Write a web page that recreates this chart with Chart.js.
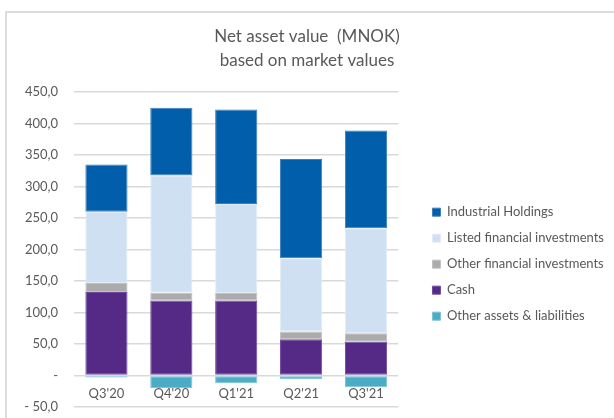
<!DOCTYPE html>
<html>
<head>
<meta charset="utf-8">
<script src="https://cdn.jsdelivr.net/npm/chart.js@4/dist/chart.umd.min.js"></script>
<style>
  html, body { margin: 0; padding: 0; background: #ffffff; }
  #frame { position: absolute; left: 5px; top: 11px; width: 700px; height: 500px;
           border-top: 2px solid #dcdcdc; border-left: 2px solid #dcdcdc; }
  #wrap { position: absolute; left: 0; top: 0; width: 614px; height: 418px; }
</style>
</head>
<body>
<div id="frame"></div>
<div id="wrap"><canvas id="c"></canvas></div>
<script>
const categories = ["Q3'20", "Q4'20", "Q1'21", "Q2'21", "Q3'21"];
const industrialHoldings = [74.8, 107.6, 150.0, 157.4, 155.2];
const listedFinancial = [113.3, 186.0, 141.3, 116.0, 166.5];
const otherFinancial = [14.3, 12.4, 12.0, 12.3, 13.8];
const cash = [132.4, 119.0, 119.0, 57.7, 53.4];
const otherAssets = [-3.0, -19.7, -12.3, -5.9, -18.6];
const titleLines = ["Net asset value  (MNOK)", "based on market values"];
const yMin = -50, yMax = 450, yStep = 50;

const FONT = "Lato, 'Open Sans', sans-serif";
const TXT = '#595959';

function fmt(v) {
  if (v === 0) return '-';
  const s = Math.abs(v).toFixed(1).replace('.', ',');
  return v < 0 ? '- ' + s : s;
}

new Chart(document.getElementById('c'), {
  type: 'bar',
  data: {
    labels: categories,
    datasets: [
      { label: 'Other assets & liabilities', data: otherAssets, backgroundColor: '#4BACC6', borderColor: '#7cc4d6' },
      { label: 'Cash', data: cash, backgroundColor: '#552A87', borderColor: '#6f4a9c' },
      { label: 'Other financial investments', data: otherFinancial, backgroundColor: '#ABABAB', borderColor: '#c2c2c2' },
      { label: 'Listed financial investments', data: listedFinancial, backgroundColor: '#CFE0F2', borderColor: '#e2ecf8' },
      { label: 'Industrial Holdings', data: industrialHoldings, backgroundColor: '#005EAB', borderColor: '#3a7fbd' }
    ]
  },
  options: {
    responsive: true,
    maintainAspectRatio: false,
    animation: false,
    datasets: { bar: { categoryPercentage: 1, barPercentage: 0.65, borderWidth: 1, borderSkipped: false } },
    layout: { padding: { top: 0, bottom: 0, left: 0, right: 0 } },
    scales: {
      x: {
        stacked: true,
        position: { y: 0 },
        afterFit: (s) => { s.height = 0; },
        grid: { display: false, drawTicks: false },
        border: { display: false },
        ticks: { color: TXT, font: { family: FONT, size: 13 }, padding: 11 }
      },
      y: {
        stacked: true,
        min: yMin, max: yMax,
        afterFit: (s) => { s.width = 74; s.paddingTop = 0; s.paddingBottom = 11; },
        grid: { color: '#d9d9d9', lineWidth: 1.5, drawTicks: false },
        border: { display: false },
        ticks: { stepSize: yStep, color: TXT, font: { family: FONT, size: 13 }, padding: 16, callback: (v) => fmt(v) }
      },
      gap: {
        type: 'linear',
        position: 'right',
        display: true,
        afterFit: (s) => { s.width = 21; },
        grid: { display: false, drawTicks: false },
        border: { display: false },
        ticks: { display: false }
      }
    },
    plugins: {
      title: {
        display: true,
        text: titleLines,
        color: TXT,
        font: { family: FONT, size: 17, weight: 'normal', lineHeight: 1.41 },
        padding: { top: 25, bottom: 19 }
      },
      legend: {
        position: 'right',
        fullSize: false,
        reverse: true,
        maxWidth: 196,
        title: { display: true, text: '', font: { size: 12 }, padding: { top: 15, bottom: 0 } },
        labels: { boxWidth: 8, boxHeight: 8, padding: 13, color: TXT, font: { family: FONT, size: 13 } }
      },
      tooltip: { enabled: false }
    }
  }
});
</script>
</body>
</html>
